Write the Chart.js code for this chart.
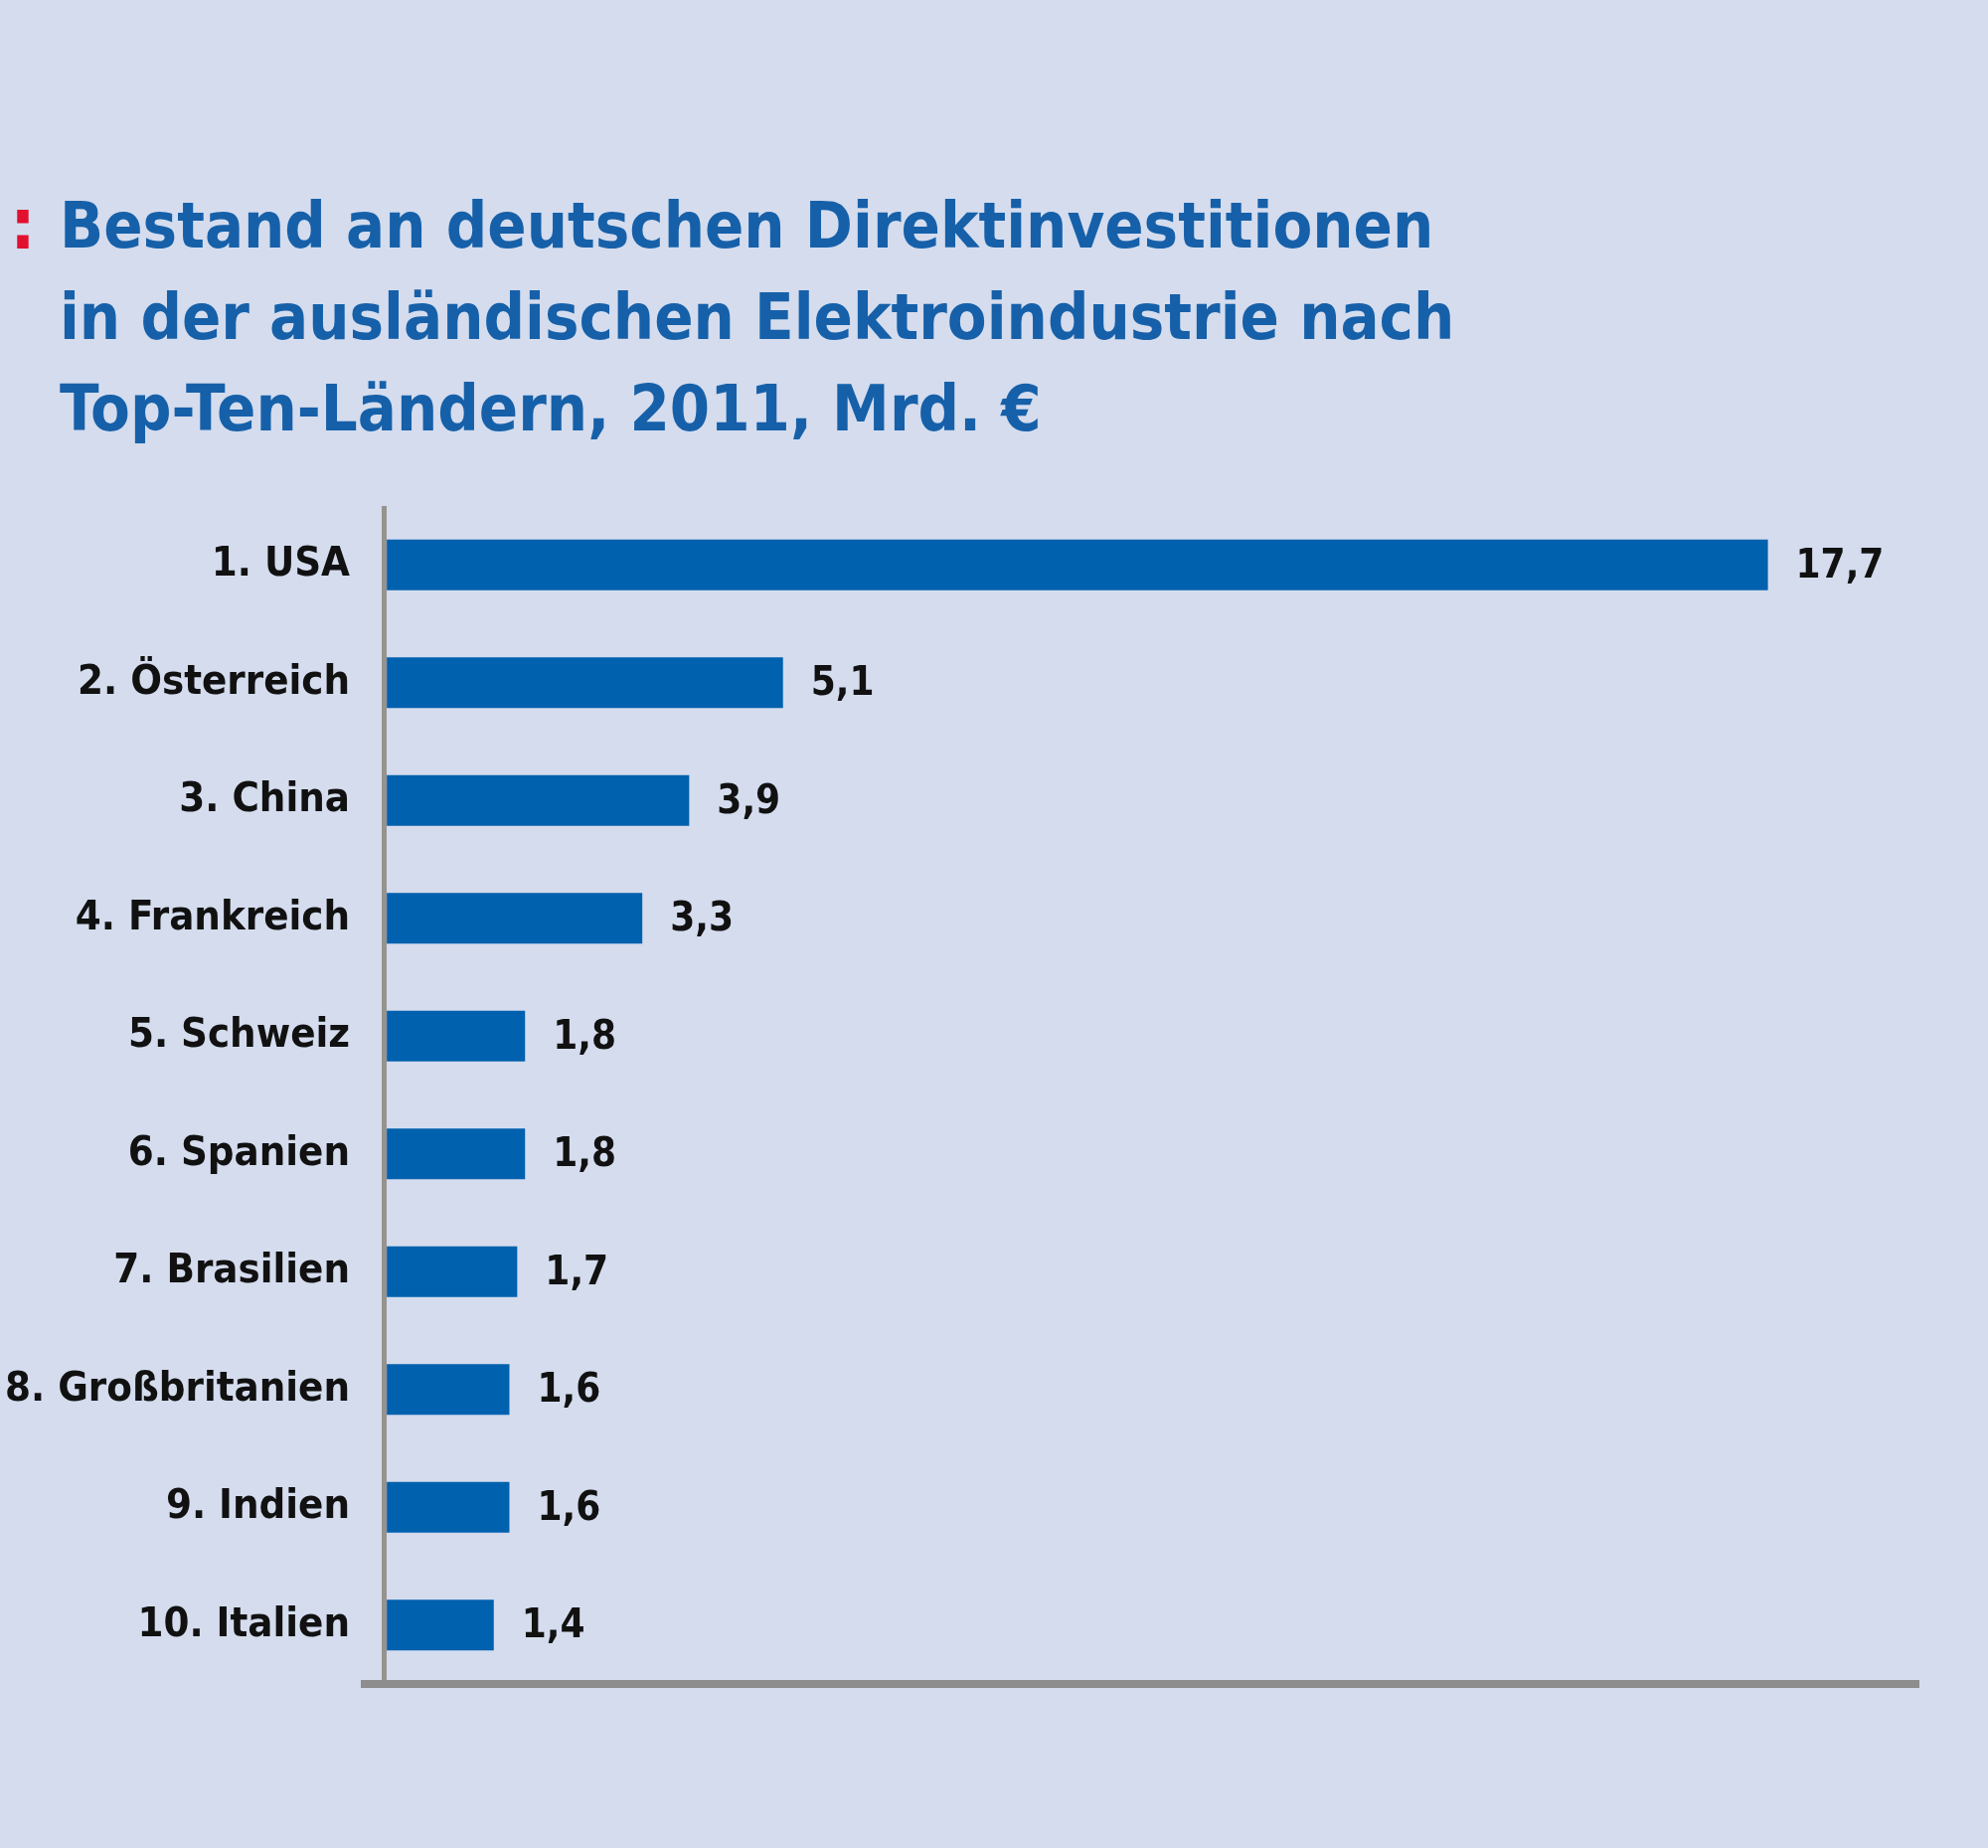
<!DOCTYPE html>
<html lang="de">
<head>
<meta charset="utf-8">
<title>Direktinvestitionen Elektroindustrie 2011</title>
<script src="https://cdn.jsdelivr.net/npm/chart.js@4.4.1/dist/chart.umd.min.js"></script>
<style>
  html, body { margin: 0; padding: 0; background: #d4dcee; }
  #wrap { position: relative; width: 2000px; height: 1859px; overflow: hidden; }
  #chart { position: absolute; left: 0; top: 0; }
  .title {
    position: absolute; left: 60px; top: 181px;
    font-family: "DejaVu Sans Condensed", "DejaVu Sans", sans-serif;
    font-weight: bold; font-size: 64.5px; line-height: 92px;
    color: #1660a9; white-space: nowrap;
  }
  .title .dots { position: absolute; left: -50px; top: -2px; font-size: 72px; color: #e2102e; }
</style>
</head>
<body>
<div id="wrap">
  <canvas id="chart" width="2000" height="1859"></canvas>
  <div class="title"><span class="dots">:</span>Bestand an deutschen Direktinvestitionen<br>in der ausländischen Elektroindustrie nach<br>Top-Ten-Ländern, 2011, Mrd. €</div>
</div>
<script>
//declarations

const countries = ['1. USA', '2. Österreich', '3. China', '4. Frankreich', '5. Schweiz',
  '6. Spanien', '7. Brasilien', '8. Großbritanien', '9. Indien', '10. Italien'];
const values = [17.7, 5.1, 3.9, 3.3, 1.8, 1.8, 1.7, 1.6, 1.6, 1.4];
const xMin = -0.25;   // lets the bottom axis line run a bit left of the zero line
const xMax = 19.6;

const fontFamily = '"DejaVu Sans Condensed", "DejaVu Sans", sans-serif';
const labelFont = { family: fontFamily, weight: 'bold', size: 41.5 };
const valueFont = { family: fontFamily, weight: 'bold', size: 40 };
const barColor = '#0061ae';
const axisGray = '#8d8d8d';

// writes the value right of each bar, german comma
const valueLabels = {
  id: 'valueLabels',
  afterDatasetsDraw(chart) {
    const ctx = chart.ctx;
    const meta = chart.getDatasetMeta(0);
    ctx.save();
    ctx.font = `${valueFont.weight} ${valueFont.size}px ${valueFont.family}`;
    ctx.fillStyle = '#111';
    ctx.textAlign = 'left';
    ctx.textBaseline = 'middle';
    meta.data.forEach((bar, i) => {
      ctx.fillText(values[i].toFixed(1).replace('.', ','), bar.x + 28, bar.y + 2);
    });
    ctx.restore();
  }
};

//chart

const ctx = document.getElementById('chart').getContext('2d');
const myChart = new Chart(ctx, {
  type: 'bar',
  data: {
    labels: countries,
    datasets: [{
      data: values,
      backgroundColor: barColor,
      borderWidth: 0,
      barPercentage: 0.43,
      categoryPercentage: 1
    }]
  },
  options: {
    indexAxis: 'y',
    responsive: false,
    animation: false,
    devicePixelRatio: 1,
    layout: { padding: { top: 509, bottom: 165, left: 0, right: 72 } },
    plugins: { legend: { display: false }, tooltip: { enabled: false }, title: { display: false } },
    scales: {
      x: {
        min: xMin,
        max: xMax,
        afterBuildTicks: s => { s.ticks = [{ value: 0 }]; },
        afterFit: s => { s.height = 0; },
        ticks: { display: false },
        grid: { color: '#97938f', lineWidth: 5, drawTicks: false },
        border: { display: true, color: axisGray, width: 8 }
      },
      y: {
        afterFit: s => { s.width = 367; },
        grid: { display: false },
        border: { display: false },
        ticks: { color: '#111', font: labelFont, padding: 7 }
      }
    }
  },
  plugins: [valueLabels]
});
</script>
</body>
</html>
